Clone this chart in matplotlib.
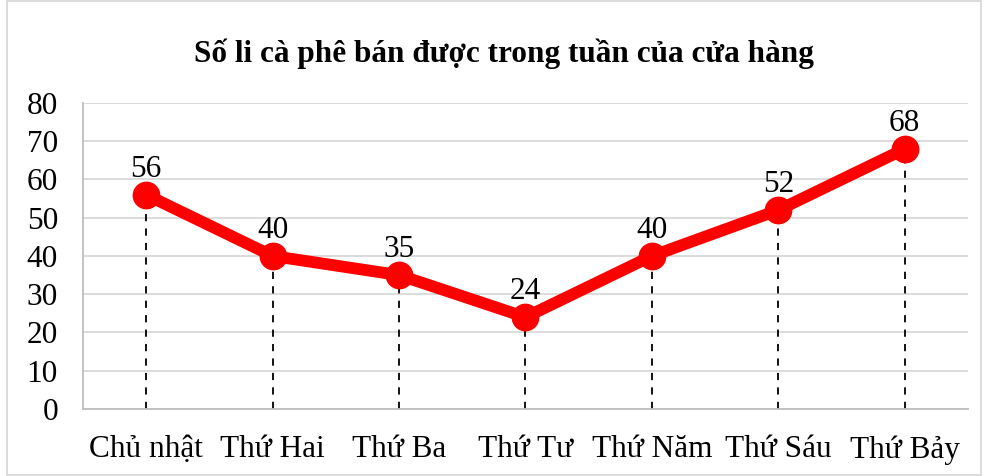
import matplotlib
matplotlib.use("Agg")
import matplotlib.pyplot as plt
from matplotlib.patches import Rectangle

days = ["Chủ nhật", "Thứ Hai", "Thứ Ba", "Thứ Tư", "Thứ Năm", "Thứ Sáu", "Thứ Bảy"]
cups = [56, 40, 35, 24, 40, 52, 68]
yticks = [0, 10, 20, 30, 40, 50, 60, 70, 80]
title = "Số li cà phê bán được trong tuần của cửa hàng"

plt.rcParams['font.family'] = ['Liberation Serif', 'DejaVu Serif']

fig = plt.figure(figsize=(9.84, 4.76), dpi=100)
ax = fig.add_axes([0.0843, 0.1408, 0.8994, 0.6428])

x = list(range(len(days)))
ax.vlines(x, 0, cups, colors="black", linestyles=(0, (4, 4)), linewidth=1.3, zorder=2)
ax.plot(x, cups, color="#ff0000", linewidth=8.5, marker="o", markersize=19,
        solid_capstyle="round", zorder=3)
for xi, v in zip(x, cups):
    ax.annotate(str(v), (xi, v), xytext=(0, 13), textcoords="offset points",
                ha="center", va="baseline", fontsize=22.5, color="black")

ax.set_xlim(-0.5, len(days) - 0.5)
ax.set_ylim(0, 80)
ax.set_yticks(yticks)
ax.set_xticks(x)
ax.set_xticklabels(days)
ax.tick_params(axis="both", length=0, labelsize=22.5, colors="black")
ax.tick_params(axis="x", pad=19)
ax.tick_params(axis="y", pad=18)
ax.grid(axis="y", color="#d9d9d9", linewidth=1.3, zorder=0)
ax.set_axisbelow(True)
for s in ["top", "right"]:
    ax.spines[s].set_visible(False)
ax.spines["left"].set_color("#bfbfbf")
ax.spines["bottom"].set_color("#bfbfbf")
ax.spines["left"].set_linewidth(1.3)
ax.spines["bottom"].set_linewidth(1.3)

fig.text(0.512, 0.887, title, ha="center", va="center", fontsize=22.5, fontweight="bold")

fig.patches.append(Rectangle((0.007, 0.003), 0.99, 0.995, transform=fig.transFigure,
                             fill=False, edgecolor="#d9d9d9", linewidth=1.3))

fig.savefig("out.png", dpi=100)
